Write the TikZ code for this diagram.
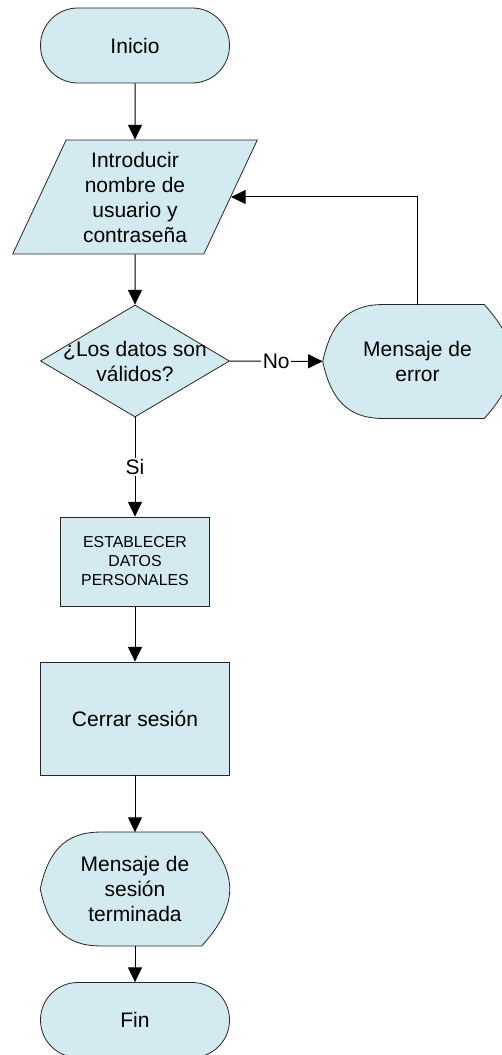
\documentclass[tikz,border=0pt]{standalone}
\usepackage{fontspec}
\setmainfont{Liberation Sans}
\usetikzlibrary{shapes.geometric,arrows.meta,backgrounds}
\definecolor{boxfill}{RGB}{210,234,240}
\tikzset{
    shape line/.style={draw=black!85, fill=boxfill, line width=0.6pt},
    bigtext/.style={font=\fontsize{15.75}{18.75}\selectfont, align=center},
    smalltext/.style={font=\fontsize{11.9}{14.25}\selectfont, align=center},
    terminal/.style={shape line, bigtext, rectangle, rounded corners=28pt,
        minimum width=141.75pt, minimum height=56.25pt},
    inputbox/.style={shape line, bigtext, trapezium, trapezium left angle=66,
        trapezium right angle=114, trapezium stretches=true,
        minimum width=183.75pt, minimum height=85.5pt, inner sep=0pt},
    decision/.style={shape line, diamond, minimum width=141.75pt,
        minimum height=84pt, inner sep=0pt},
    display/.style={bigtext, rectangle, minimum width=141.75pt, minimum height=85pt},
    process/.style={shape line, bigtext, rectangle},
    arr/.style={-{Triangle[length=11pt,width=10.5pt]}, line width=0.75pt},
    edge label/.style={bigtext, fill=white, inner sep=1pt}
}
\begin{document}
\begin{tikzpicture}[x=0.75pt,y=-0.75pt]
    \useasboundingbox (0,0) rectangle (502,1055);
    \node[terminal] (start) at (135,45.5) {Inicio};
    \node[inputbox] (input) at (135,197) {Introducir\\nombre de\\usuario y\\contraseña};
    \node[decision, label={[bigtext]center:¿Los datos son\\válidos?}] (check) at (135,361) {};
    \node[display] (error) at (417.5,361.5) {Mensaje de\\error};
    \node[process, smalltext, minimum width=111.75pt, minimum height=66.75pt] (setdata) at (135,561.5) {ESTABLECER\\DATOS\\PERSONALES};
    \node[process, minimum width=141.75pt, minimum height=84.75pt] (logout) at (135,718.5) {Cerrar sesión};
    \node[display] (endmsg) at (135,889) {Mensaje de\\sesión\\terminada};
    \node[terminal] (stop) at (135,1020) {Fin};
    % display outlines
    \begin{scope}[on background layer]
        \foreach \n in {error,endmsg}
            \draw[shape line] (\n.west) .. controls +(78:28pt) and +(180:27pt) .. ([xshift=45pt]\n.north west)
                -- ([xshift=-21pt]\n.north east) .. controls +(-48:14pt) and +(90:17pt) .. (\n.east)
                .. controls +(-90:17pt) and +(48:14pt) .. ([xshift=-21pt]\n.south east)
                -- ([xshift=45pt]\n.south west) .. controls +(180:27pt) and +(-78:28pt) .. (\n.west) -- cycle;
    \end{scope}
    \draw[arr] (start) -- (input);
    \draw[arr] (input) -- (check);
    \draw[arr] (check) -- node[edge label] {No} (error);
    \draw[arr] (error) |- (input);
    \draw[arr] (check) -- node[edge label] {Si} (setdata);
    \draw[arr] (setdata) -- (logout);
    \draw[arr] (logout) -- (endmsg);
    \draw[arr] (endmsg) -- (stop);
\end{tikzpicture}
\end{document}
